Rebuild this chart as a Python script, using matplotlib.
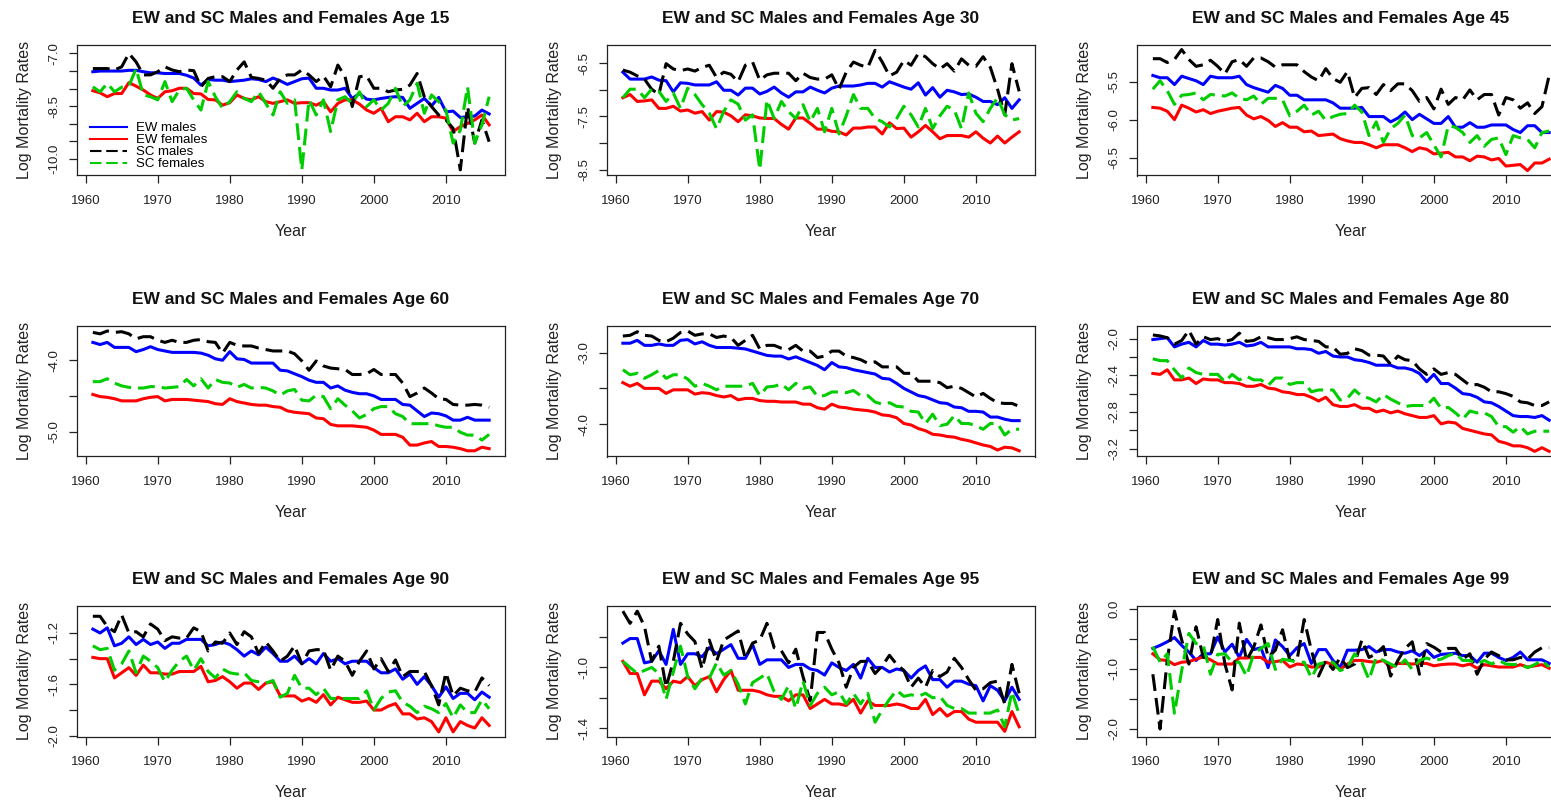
import matplotlib
matplotlib.use("Agg")
import matplotlib.pyplot as plt

plt.rcParams["font.family"] = ["Liberation Sans", "DejaVu Sans"]

years = list(range(1961, 2017))
ages = [15, 30, 45, 60, 70, 80, 90, 95, 99]
labels = ["EW males", "EW females", "SC males", "SC females"]

# log mortality rates, 1961..2016
ew_m_15 = [-7.52, -7.50, -7.50, -7.50, -7.50, -7.48, -7.48, -7.52, -7.55, -7.55,
           -7.57, -7.57, -7.57, -7.62, -7.70, -7.90, -7.74, -7.76, -7.76, -7.80,
           -7.78, -7.76, -7.72, -7.74, -7.80, -7.70, -7.78, -7.88, -7.80, -7.72,
           -7.70, -7.99, -7.99, -8.04, -8.04, -7.99, -8.28, -8.14, -8.30, -8.32,
           -8.28, -8.25, -8.23, -8.25, -8.56, -8.42, -8.28, -8.49, -8.25, -8.66,
           -8.64, -8.82, -8.80, -8.78, -8.61, -8.72]
ew_f_15 = [-8.06, -8.12, -8.23, -8.14, -8.14, -7.83, -7.93, -8.04, -8.18, -8.28,
           -8.09, -8.06, -7.99, -7.99, -8.14, -8.15, -8.31, -8.32, -8.47, -8.40,
           -8.18, -8.28, -8.32, -8.23, -8.37, -8.42, -8.37, -8.32, -8.42, -8.40,
           -8.40, -8.47, -8.37, -8.66, -8.42, -8.32, -8.32, -8.44, -8.61, -8.70,
           -8.56, -8.94, -8.80, -8.80, -8.89, -8.70, -8.94, -8.80, -8.80, -8.84,
           -9.22, -9.08, -8.99, -8.89, -8.75, -9.03]
sc_m_15 = [-7.43, -7.43, -7.43, -7.47, -7.38, -7.00, -7.24, -7.61, -7.61, -7.52,
           -7.38, -7.47, -7.52, -7.47, -7.49, -7.95, -7.71, -7.66, -7.66, -7.80,
           -7.47, -7.24, -7.68, -7.71, -7.76, -7.99, -7.71, -7.61, -7.61, -7.47,
           -7.61, -7.80, -7.64, -7.95, -7.33, -7.66, -8.51, -7.66, -7.64, -7.99,
           -7.99, -8.09, -8.04, -8.02, -7.90, -7.57, -8.23, -8.51, -8.75, -8.89,
           -9.13, -10.31, -8.51, -9.55, -8.89, -9.51]
sc_f_15 = [-7.95, -8.09, -7.85, -8.09, -7.96, -7.93, -7.43, -8.18, -8.23, -8.32,
           -7.80, -8.37, -8.04, -7.99, -8.32, -8.61, -7.80, -8.23, -8.56, -8.37,
           -8.09, -8.28, -8.37, -8.09, -8.42, -8.75, -8.09, -8.42, -8.32, -10.31,
           -8.32, -8.75, -8.32, -9.22, -8.32, -8.23, -8.42, -8.09, -8.51, -8.32,
           -8.61, -8.42, -7.99, -8.51, -8.32, -7.85, -8.70, -8.18, -8.37, -8.61,
           -9.55, -9.18, -7.95, -9.55, -9.03, -8.23]

ew_m_30 = [-6.67, -6.80, -6.80, -6.80, -6.76, -6.82, -6.83, -7.04, -6.87, -6.88,
           -6.91, -6.91, -6.91, -6.85, -7.01, -7.01, -7.10, -6.97, -6.97, -7.08,
           -7.03, -6.95, -7.06, -7.14, -7.04, -7.04, -6.95, -7.01, -7.06, -6.97,
           -6.93, -6.93, -6.93, -6.91, -6.88, -6.88, -6.95, -6.85, -6.90, -6.95,
           -6.99, -6.87, -7.10, -6.96, -7.14, -7.01, -7.04, -7.09, -7.08, -7.14,
           -7.22, -7.22, -7.28, -7.15, -7.35, -7.19]
ew_f_30 = [-7.15, -7.09, -7.22, -7.21, -7.19, -7.35, -7.35, -7.31, -7.40, -7.38,
           -7.44, -7.41, -7.57, -7.41, -7.42, -7.49, -7.60, -7.47, -7.49, -7.53,
           -7.54, -7.54, -7.65, -7.74, -7.53, -7.53, -7.63, -7.74, -7.74, -7.78,
           -7.79, -7.85, -7.72, -7.72, -7.70, -7.70, -7.83, -7.62, -7.73, -7.72,
           -7.89, -7.79, -7.67, -7.79, -7.92, -7.86, -7.86, -7.86, -7.89, -7.79,
           -7.91, -8.00, -7.87, -8.00, -7.89, -7.79]
sc_m_30 = [-6.63, -6.67, -6.74, -6.80, -6.99, -7.09, -6.51, -6.61, -6.64, -6.61,
           -6.65, -6.58, -6.54, -6.77, -6.67, -6.71, -6.85, -6.54, -6.48, -6.82,
           -6.72, -6.69, -6.69, -6.69, -6.83, -6.69, -6.77, -6.80, -6.80, -6.72,
           -6.99, -6.67, -6.48, -6.54, -6.58, -6.26, -6.48, -6.74, -6.67, -6.45,
           -6.54, -6.32, -6.38, -6.51, -6.61, -6.51, -6.65, -6.42, -6.54, -6.56,
           -6.38, -6.58, -6.99, -7.47, -6.51, -7.03]
sc_f_30 = [-7.15, -6.99, -6.99, -7.15, -6.99, -7.03, -7.22, -7.06, -7.35, -6.97,
           -7.09, -7.28, -7.44, -7.73, -7.41, -7.19, -7.27, -7.57, -7.47, -8.50,
           -7.19, -7.54, -7.22, -7.41, -7.54, -7.28, -7.60, -7.35, -7.79, -7.35,
           -7.83, -7.49, -7.09, -7.35, -7.35, -7.54, -7.60, -7.70, -7.54, -7.31,
           -7.47, -7.70, -7.35, -7.73, -7.49, -7.31, -7.38, -7.73, -7.06, -7.44,
           -7.60, -7.35, -7.15, -7.47, -7.57, -7.54]

ew_m_45 = [-5.42, -5.45, -5.45, -5.54, -5.43, -5.46, -5.49, -5.54, -5.43, -5.45,
           -5.45, -5.45, -5.43, -5.54, -5.58, -5.61, -5.64, -5.55, -5.59, -5.68,
           -5.68, -5.74, -5.74, -5.74, -5.74, -5.78, -5.85, -5.85, -5.85, -5.84,
           -5.96, -5.96, -5.96, -6.03, -5.98, -5.90, -6.00, -5.93, -5.99, -6.05,
           -6.05, -5.96, -6.10, -6.10, -6.04, -6.10, -6.10, -6.07, -6.07, -6.07,
           -6.13, -6.17, -6.08, -6.08, -6.17, -6.17]
ew_f_45 = [-5.84, -5.85, -5.89, -6.00, -5.81, -5.85, -5.90, -5.87, -5.92, -5.89,
           -5.87, -5.85, -5.84, -5.94, -5.99, -5.96, -6.01, -6.09, -6.04, -6.10,
           -6.10, -6.16, -6.15, -6.21, -6.20, -6.19, -6.25, -6.28, -6.30, -6.30,
           -6.33, -6.37, -6.33, -6.33, -6.33, -6.37, -6.42, -6.37, -6.39, -6.45,
           -6.44, -6.43, -6.49, -6.49, -6.54, -6.48, -6.49, -6.53, -6.51, -6.61,
           -6.60, -6.59, -6.67, -6.57, -6.57, -6.52]
sc_m_45 = [-5.20, -5.20, -5.25, -5.21, -5.08, -5.21, -5.30, -5.28, -5.22, -5.30,
           -5.40, -5.24, -5.21, -5.30, -5.19, -5.19, -5.24, -5.31, -5.28, -5.28,
           -5.28, -5.37, -5.44, -5.49, -5.33, -5.46, -5.51, -5.37, -5.71, -5.59,
           -5.58, -5.67, -5.54, -5.62, -5.53, -5.53, -5.62, -5.76, -5.71, -5.86,
           -5.60, -5.80, -5.71, -5.74, -5.61, -5.74, -5.67, -5.67, -5.94, -5.71,
           -5.74, -5.85, -5.78, -5.92, -5.83, -5.42]
sc_f_45 = [-5.60, -5.49, -5.62, -5.80, -5.68, -5.67, -5.65, -5.74, -5.67, -5.68,
           -5.69, -5.65, -5.72, -5.74, -5.69, -5.80, -5.72, -5.72, -5.74, -5.95,
           -5.89, -5.81, -5.94, -5.89, -6.01, -5.96, -5.93, -5.92, -5.81, -5.90,
           -6.21, -6.03, -6.30, -6.12, -6.05, -5.94, -6.21, -6.24, -6.17, -6.33,
           -6.49, -6.08, -6.10, -6.17, -6.30, -6.21, -6.35, -6.26, -6.24, -6.46,
           -6.21, -6.24, -6.26, -6.37, -6.17, -6.15]

ew_m_60 = [-3.75, -3.78, -3.75, -3.82, -3.82, -3.82, -3.88, -3.85, -3.81, -3.85,
           -3.87, -3.89, -3.89, -3.89, -3.89, -3.90, -3.93, -3.98, -4.00, -3.88,
           -3.98, -3.99, -4.04, -4.04, -4.04, -4.04, -4.14, -4.15, -4.19, -4.23,
           -4.28, -4.31, -4.31, -4.39, -4.36, -4.42, -4.45, -4.47, -4.47, -4.50,
           -4.55, -4.55, -4.55, -4.62, -4.63, -4.71, -4.79, -4.74, -4.75, -4.78,
           -4.84, -4.84, -4.80, -4.84, -4.84, -4.84]
ew_f_60 = [-4.48, -4.51, -4.52, -4.54, -4.57, -4.57, -4.57, -4.54, -4.52, -4.51,
           -4.57, -4.55, -4.55, -4.55, -4.56, -4.57, -4.58, -4.61, -4.62, -4.54,
           -4.58, -4.60, -4.62, -4.63, -4.63, -4.65, -4.66, -4.71, -4.73, -4.74,
           -4.75, -4.81, -4.82, -4.90, -4.92, -4.92, -4.92, -4.93, -4.94, -4.98,
           -5.04, -5.04, -5.04, -5.08, -5.19, -5.19, -5.16, -5.14, -5.21, -5.21,
           -5.22, -5.24, -5.27, -5.27, -5.22, -5.24]
sc_m_60 = [-3.61, -3.63, -3.59, -3.61, -3.60, -3.63, -3.70, -3.67, -3.67, -3.72,
           -3.75, -3.72, -3.75, -3.75, -3.72, -3.71, -3.74, -3.75, -3.90, -3.75,
           -3.79, -3.80, -3.80, -3.83, -3.85, -3.87, -3.87, -3.87, -3.91, -4.01,
           -4.14, -4.01, -4.08, -4.11, -4.12, -4.13, -4.20, -4.20, -4.19, -4.13,
           -4.20, -4.20, -4.20, -4.32, -4.51, -4.46, -4.39, -4.46, -4.54, -4.55,
           -4.62, -4.63, -4.63, -4.62, -4.63, -4.66]
sc_f_60 = [-4.30, -4.30, -4.26, -4.32, -4.36, -4.38, -4.39, -4.39, -4.37, -4.37,
           -4.39, -4.38, -4.37, -4.27, -4.36, -4.26, -4.39, -4.27, -4.31, -4.32,
           -4.38, -4.34, -4.39, -4.38, -4.39, -4.43, -4.49, -4.43, -4.41, -4.56,
           -4.57, -4.49, -4.51, -4.68, -4.54, -4.63, -4.71, -4.81, -4.76, -4.68,
           -4.65, -4.65, -4.75, -4.79, -4.89, -4.89, -4.89, -4.89, -4.92, -4.94,
           -4.94, -5.01, -5.05, -5.05, -5.12, -5.04]

ew_m_70 = [-2.87, -2.87, -2.83, -2.90, -2.90, -2.88, -2.90, -2.90, -2.83, -2.82,
           -2.88, -2.85, -2.90, -2.93, -2.93, -2.93, -2.94, -2.95, -2.98, -3.01,
           -3.04, -3.05, -3.05, -3.09, -3.06, -3.10, -3.14, -3.18, -3.24, -3.14,
           -3.20, -3.21, -3.24, -3.26, -3.28, -3.30, -3.36, -3.37, -3.43, -3.50,
           -3.55, -3.60, -3.62, -3.66, -3.70, -3.71, -3.76, -3.77, -3.82, -3.82,
           -3.83, -3.90, -3.90, -3.93, -3.95, -3.95]
ew_f_70 = [-3.42, -3.47, -3.43, -3.50, -3.50, -3.50, -3.57, -3.52, -3.52, -3.52,
           -3.58, -3.56, -3.57, -3.60, -3.62, -3.60, -3.66, -3.64, -3.64, -3.67,
           -3.68, -3.68, -3.69, -3.69, -3.69, -3.72, -3.72, -3.77, -3.79, -3.72,
           -3.76, -3.77, -3.79, -3.80, -3.81, -3.83, -3.87, -3.88, -3.91, -3.99,
           -4.01, -4.06, -4.09, -4.14, -4.15, -4.17, -4.18, -4.21, -4.23, -4.26,
           -4.29, -4.31, -4.36, -4.32, -4.33, -4.37]
sc_m_70 = [-2.77, -2.76, -2.71, -2.76, -2.77, -2.83, -2.85, -2.80, -2.72, -2.70,
           -2.76, -2.74, -2.74, -2.79, -2.77, -2.79, -2.90, -2.83, -2.76, -2.95,
           -2.90, -2.90, -2.94, -2.96, -2.90, -2.98, -2.98, -3.07, -3.05, -2.98,
           -2.98, -3.05, -3.07, -3.10, -3.15, -3.13, -3.20, -3.20, -3.20, -3.29,
           -3.29, -3.40, -3.40, -3.40, -3.42, -3.49, -3.47, -3.50, -3.56, -3.62,
           -3.57, -3.64, -3.70, -3.71, -3.71, -3.75]
sc_f_70 = [-3.24, -3.31, -3.29, -3.36, -3.31, -3.25, -3.36, -3.31, -3.31, -3.37,
           -3.47, -3.43, -3.47, -3.52, -3.47, -3.47, -3.47, -3.47, -3.43, -3.60,
           -3.48, -3.47, -3.44, -3.52, -3.43, -3.50, -3.48, -3.61, -3.60, -3.55,
           -3.55, -3.56, -3.53, -3.60, -3.60, -3.69, -3.72, -3.70, -3.75, -3.76,
           -3.82, -3.83, -3.99, -3.86, -4.02, -4.00, -3.88, -3.99, -3.99, -4.02,
           -4.07, -3.99, -3.99, -4.15, -4.07, -4.07]

ew_m_80 = [-2.01, -2.00, -1.99, -2.09, -2.06, -2.04, -2.09, -2.02, -2.06, -2.06,
           -2.07, -2.06, -2.04, -2.08, -2.07, -2.04, -2.09, -2.09, -2.09, -2.09,
           -2.11, -2.11, -2.12, -2.16, -2.14, -2.19, -2.20, -2.20, -2.23, -2.24,
           -2.26, -2.29, -2.29, -2.29, -2.32, -2.32, -2.34, -2.38, -2.47, -2.39,
           -2.49, -2.49, -2.54, -2.60, -2.61, -2.64, -2.69, -2.70, -2.74, -2.79,
           -2.84, -2.85, -2.85, -2.86, -2.84, -2.89]
ew_f_80 = [-2.38, -2.39, -2.34, -2.45, -2.45, -2.43, -2.49, -2.44, -2.45, -2.45,
           -2.48, -2.48, -2.49, -2.52, -2.52, -2.50, -2.54, -2.55, -2.58, -2.59,
           -2.61, -2.61, -2.64, -2.68, -2.64, -2.72, -2.74, -2.74, -2.72, -2.76,
           -2.76, -2.80, -2.78, -2.81, -2.79, -2.82, -2.84, -2.86, -2.86, -2.84,
           -2.93, -2.91, -2.92, -2.98, -3.00, -3.02, -3.04, -3.05, -3.12, -3.14,
           -3.17, -3.17, -3.19, -3.23, -3.19, -3.23]
sc_m_80 = [-1.96, -1.97, -1.99, -2.06, -2.02, -1.91, -2.06, -1.98, -2.01, -2.00,
           -2.03, -2.01, -1.94, -2.03, -2.02, -1.98, -1.99, -2.01, -2.01, -2.00,
           -1.98, -2.01, -2.02, -2.03, -2.09, -2.09, -2.17, -2.16, -2.11, -2.13,
           -2.18, -2.18, -2.19, -2.28, -2.19, -2.23, -2.24, -2.33, -2.39, -2.33,
           -2.39, -2.37, -2.39, -2.45, -2.51, -2.50, -2.53, -2.58, -2.58, -2.60,
           -2.63, -2.69, -2.70, -2.73, -2.73, -2.69]
sc_f_80 = [-2.22, -2.24, -2.24, -2.34, -2.43, -2.32, -2.37, -2.39, -2.39, -2.39,
           -2.47, -2.39, -2.45, -2.41, -2.45, -2.45, -2.51, -2.43, -2.43, -2.50,
           -2.48, -2.48, -2.58, -2.56, -2.56, -2.56, -2.67, -2.65, -2.56, -2.63,
           -2.65, -2.69, -2.61, -2.66, -2.70, -2.74, -2.73, -2.73, -2.73, -2.65,
           -2.76, -2.75, -2.81, -2.88, -2.79, -2.81, -2.81, -2.85, -2.96, -2.96,
           -3.02, -2.96, -3.04, -3.01, -3.01, -3.01]

ew_m_90 = [-1.17, -1.20, -1.16, -1.30, -1.28, -1.23, -1.29, -1.25, -1.29, -1.27,
           -1.32, -1.28, -1.28, -1.25, -1.25, -1.25, -1.30, -1.29, -1.27, -1.29,
           -1.33, -1.38, -1.34, -1.37, -1.31, -1.36, -1.42, -1.42, -1.38, -1.44,
           -1.40, -1.44, -1.36, -1.42, -1.40, -1.44, -1.42, -1.42, -1.42, -1.47,
           -1.51, -1.51, -1.48, -1.56, -1.52, -1.60, -1.54, -1.61, -1.70, -1.62,
           -1.71, -1.67, -1.67, -1.72, -1.66, -1.70]
ew_f_90 = [-1.39, -1.40, -1.40, -1.55, -1.51, -1.47, -1.53, -1.45, -1.51, -1.51,
           -1.52, -1.52, -1.50, -1.50, -1.50, -1.46, -1.58, -1.57, -1.54, -1.58,
           -1.63, -1.59, -1.59, -1.64, -1.59, -1.58, -1.69, -1.69, -1.69, -1.73,
           -1.71, -1.74, -1.68, -1.76, -1.70, -1.72, -1.74, -1.74, -1.73, -1.80,
           -1.80, -1.77, -1.75, -1.83, -1.83, -1.87, -1.86, -1.89, -1.97, -1.86,
           -1.97, -1.89, -1.92, -1.94, -1.86, -1.92]
sc_m_90 = [-1.07, -1.07, -1.15, -1.19, -1.06, -1.20, -1.19, -1.23, -1.13, -1.17,
           -1.26, -1.23, -1.24, -1.24, -1.16, -1.19, -1.34, -1.27, -1.28, -1.20,
           -1.29, -1.19, -1.23, -1.36, -1.27, -1.34, -1.42, -1.38, -1.30, -1.44,
           -1.34, -1.33, -1.33, -1.49, -1.38, -1.42, -1.53, -1.42, -1.34, -1.48,
           -1.40, -1.50, -1.41, -1.54, -1.50, -1.50, -1.50, -1.61, -1.76, -1.51,
           -1.69, -1.63, -1.65, -1.66, -1.55, -1.61]
sc_f_90 = [-1.30, -1.33, -1.32, -1.49, -1.44, -1.34, -1.51, -1.38, -1.42, -1.47,
           -1.58, -1.49, -1.42, -1.38, -1.49, -1.40, -1.50, -1.55, -1.48, -1.51,
           -1.52, -1.51, -1.57, -1.58, -1.59, -1.57, -1.70, -1.67, -1.53, -1.63,
           -1.63, -1.68, -1.63, -1.71, -1.71, -1.71, -1.71, -1.71, -1.65, -1.80,
           -1.71, -1.66, -1.65, -1.74, -1.77, -1.82, -1.77, -1.79, -1.82, -1.75,
           -1.86, -1.76, -1.82, -1.82, -1.72, -1.79]

ew_m_95 = [-0.84, -0.81, -0.81, -0.97, -0.96, -0.89, -0.98, -0.75, -0.98, -0.91,
           -0.91, -0.93, -0.87, -0.91, -0.88, -0.85, -0.94, -0.94, -0.85, -0.98,
           -0.95, -0.95, -0.95, -1.00, -0.98, -0.98, -1.01, -1.02, -1.05, -0.97,
           -1.00, -1.02, -0.98, -1.07, -0.94, -1.00, -1.00, -1.03, -1.01, -1.02,
           -1.07, -1.02, -0.99, -1.08, -1.08, -1.13, -1.09, -1.09, -1.11, -1.12,
           -1.22, -1.12, -1.15, -1.22, -1.13, -1.21]
ew_f_95 = [-0.96, -1.04, -1.04, -1.18, -1.09, -1.09, -1.14, -1.09, -1.10, -1.06,
           -1.12, -1.08, -1.06, -1.16, -1.08, -1.02, -1.15, -1.15, -1.15, -1.16,
           -1.18, -1.19, -1.19, -1.22, -1.18, -1.18, -1.27, -1.24, -1.21, -1.24,
           -1.24, -1.25, -1.21, -1.30, -1.22, -1.25, -1.25, -1.25, -1.24, -1.25,
           -1.27, -1.27, -1.21, -1.31, -1.27, -1.32, -1.29, -1.29, -1.34, -1.36,
           -1.36, -1.36, -1.36, -1.42, -1.29, -1.39]
sc_m_95 = [-0.63, -0.71, -0.63, -0.73, -0.96, -0.86, -1.13, -0.96, -0.71, -0.78,
           -0.83, -1.01, -0.82, -0.96, -0.82, -0.79, -0.76, -0.94, -0.84, -0.82,
           -0.71, -0.87, -0.89, -0.97, -0.88, -1.06, -1.22, -0.77, -0.77, -0.88,
           -0.97, -1.13, -1.00, -0.96, -0.96, -1.04, -0.99, -0.92, -0.98, -1.02,
           -1.13, -1.07, -1.13, -1.02, -1.06, -1.03, -0.94, -1.00, -1.08, -1.15,
           -1.14, -1.10, -1.09, -1.24, -0.98, -1.17]
sc_f_95 = [-0.96, -1.00, -1.04, -1.02, -1.00, -1.04, -1.21, -1.03, -0.86, -1.06,
           -1.14, -1.07, -1.07, -0.97, -1.05, -1.02, -1.11, -1.24, -1.10, -1.07,
           -1.04, -1.16, -1.21, -1.12, -1.27, -1.09, -1.25, -1.17, -1.13, -1.18,
           -1.16, -1.24, -1.17, -1.24, -1.17, -1.36, -1.28, -1.21, -1.15, -1.19,
           -1.18, -1.19, -1.17, -1.20, -1.19, -1.25, -1.27, -1.27, -1.30, -1.30,
           -1.30, -1.30, -1.28, -1.39, -1.16, -1.31]

ew_m_99 = [-0.66, -0.61, -0.55, -0.48, -0.61, -0.72, -0.86, -0.75, -0.75, -0.47,
           -0.72, -0.59, -0.81, -0.51, -0.68, -0.65, -0.98, -0.52, -0.63, -0.78,
           -0.65, -0.58, -0.91, -0.68, -0.68, -0.86, -0.98, -0.69, -0.69, -0.68,
           -0.63, -0.72, -0.68, -0.68, -0.72, -0.74, -0.70, -0.78, -0.69, -0.81,
           -0.76, -0.75, -0.74, -0.78, -0.78, -0.89, -0.74, -0.74, -0.81, -0.86,
           -0.81, -0.72, -0.85, -0.85, -0.85, -0.91]
ew_f_99 = [-0.75, -0.85, -0.86, -0.93, -0.89, -0.88, -0.84, -0.80, -0.85, -0.92,
           -0.92, -0.92, -0.82, -0.82, -0.81, -0.81, -0.89, -0.88, -0.86, -0.97,
           -0.92, -0.93, -0.97, -0.97, -0.89, -0.93, -1.01, -0.92, -0.86, -0.86,
           -0.88, -0.89, -0.86, -0.98, -0.91, -0.91, -0.92, -0.91, -0.91, -0.95,
           -0.93, -0.92, -0.92, -0.95, -0.92, -0.99, -0.93, -0.95, -0.97, -0.97,
           -0.97, -0.93, -0.97, -0.95, -0.93, -0.99]
sc_m_99 = [-1.09, -2.00, -0.86, -0.04, -0.52, -0.92, -0.30, -0.81, -0.81, -0.18,
           -0.92, -1.35, -0.24, -0.86, -0.64, -0.27, -0.81, -0.69, -0.35, -0.86,
           -0.86, -0.18, -0.69, -1.12, -0.86, -1.01, -0.81, -0.98, -0.92, -0.52,
           -0.81, -0.75, -0.63, -1.12, -0.86, -0.66, -0.55, -1.09, -0.58, -0.64,
           -0.72, -0.66, -0.66, -0.84, -0.75, -1.09, -0.84, -0.72, -0.78, -0.85,
           -0.85, -0.81, -0.84, -0.72, -0.65, -0.65]
sc_f_99 = [-0.63, -0.89, -0.75, -1.74, -1.03, -0.41, -0.58, -0.61, -1.09, -0.76,
           -0.75, -0.89, -0.89, -1.12, -0.75, -0.66, -0.58, -1.01, -0.84, -0.86,
           -0.89, -0.89, -1.15, -0.92, -0.89, -0.89, -1.03, -0.98, -0.75, -0.89,
           -1.18, -0.81, -0.86, -0.92, -0.98, -0.85, -1.01, -0.86, -0.82, -0.86,
           -0.84, -0.78, -0.74, -0.86, -0.86, -0.92, -0.86, -0.92, -0.86, -0.92,
           -0.93, -0.92, -0.98, -0.93, -0.86, -0.97]

series = {
    15: [ew_m_15, ew_f_15, sc_m_15, sc_f_15],
    30: [ew_m_30, ew_f_30, sc_m_30, sc_f_30],
    45: [ew_m_45, ew_f_45, sc_m_45, sc_f_45],
    60: [ew_m_60, ew_f_60, sc_m_60, sc_f_60],
    70: [ew_m_70, ew_f_70, sc_m_70, sc_f_70],
    80: [ew_m_80, ew_f_80, sc_m_80, sc_f_80],
    90: [ew_m_90, ew_f_90, sc_m_90, sc_f_90],
    95: [ew_m_95, ew_f_95, sc_m_95, sc_f_95],
    99: [ew_m_99, ew_f_99, sc_m_99, sc_f_99],
}

# per-panel y axis: limits, tick positions, which ticks get a label (R drops overlapping ones)
yaxes = {
    15: ((-10.47, -6.76), [-7.0, -7.5, -8.0, -8.5, -9.0, -9.5, -10.0], ["-7.0", "", "", "-8.5", "", "", "-10.0"]),
    30: ((-8.61, -6.16), [-6.5, -7.0, -7.5, -8.0, -8.5], ["-6.5", "", "-7.5", "", "-8.5"]),
    45: ((-6.734, -5.02), [-5.5, -6.0, -6.5], ["-5.5", "-6.0", "-6.5"]),
    60: ((-5.35, -3.52), [-4.0, -4.5, -5.0], ["-4.0", "", "-5.0"]),
    70: ((-4.45, -2.63), [-3.0, -3.5, -4.0], ["-3.0", "", "-4.0"]),
    80: ((-3.286, -1.862), [-2.0, -2.2, -2.4, -2.6, -2.8, -3.0, -3.2], ["-2.0", "", "-2.4", "", "-2.8", "", "-3.2"]),
    90: ((-2.006, -0.99), [-1.2, -1.4, -1.6, -1.8, -2.0], ["-1.2", "", "-1.6", "", "-2.0"]),
    95: ((-1.454, -0.596), [-0.8, -1.0, -1.2, -1.4], ["", "-1.0", "", "-1.4"]),
    99: ((-2.125, 0.045), [0.0, -0.5, -1.0, -1.5, -2.0], ["0.0", "", "-1.0", "", "-2.0"]),
}

colors = ["#0000FF", "#FF0000", "black", "#00CD00"]
dashed = [False, False, True, True]

W, H = 1551, 805
fig = plt.figure(figsize=(W / 100, H / 100), dpi=100)
box_tops = [45, 326, 606]
box_w, box_h = 428, 130.5

for i, age in enumerate(ages):
    r, c = divmod(i, 3)
    left = 77 + 530 * c
    ax = fig.add_axes([left / W, 1 - (box_tops[r] + box_h) / H, box_w / W, box_h / H])
    for vals, lab, col, dsh in zip(series[age], labels, colors, dashed):
        ln, = ax.plot(years, vals, color=col, lw=2.2, label=lab,
                      solid_joinstyle="round", dash_joinstyle="round")
        if dsh:
            ln.set_dashes([5.5, 2.3])

    ax.set_xlim(1958.8, 2018.2)
    ax.set_xticks([1960, 1970, 1980, 1990, 2000, 2010])
    ylim, yt, ytl = yaxes[age]
    ax.set_ylim(*ylim)
    ax.set_yticks(yt)
    ax.set_yticklabels(ytl)
    for t in ax.get_yticklabels():
        t.set_rotation(90)
        t.set_verticalalignment("center")

    ax.tick_params(direction="out", length=6, width=0.9, labelsize=9.5, colors="#222222")
    ax.tick_params(axis="x", pad=8)
    ax.tick_params(axis="y", pad=6)
    for sp in ax.spines.values():
        sp.set_linewidth(0.9)
        sp.set_color("#222222")

    ax.set_title(f"EW and SC Males and Females Age {age}", fontsize=12.5,
                 fontweight="bold", pad=16, color="#111111")
    ax.set_xlabel("Year", fontsize=11.5, color="#222222")
    ax.set_ylabel("Log Mortality Rates", fontsize=11.5, color="#222222")
    ax.xaxis.set_label_coords(0.5, -0.37)
    ax.yaxis.set_label_coords(-0.105, 0.5)

    if age == 15:
        leg = ax.legend(loc="lower left", bbox_to_anchor=(0.03, 0.04), frameon=False,
                        fontsize=9.5, handlelength=2.8, handletextpad=0.7,
                        labelspacing=-0.02, borderpad=0, borderaxespad=0)
        for h in leg.get_lines():
            h.set_linewidth(1.5)

fig.savefig("out.png", dpi=100)
